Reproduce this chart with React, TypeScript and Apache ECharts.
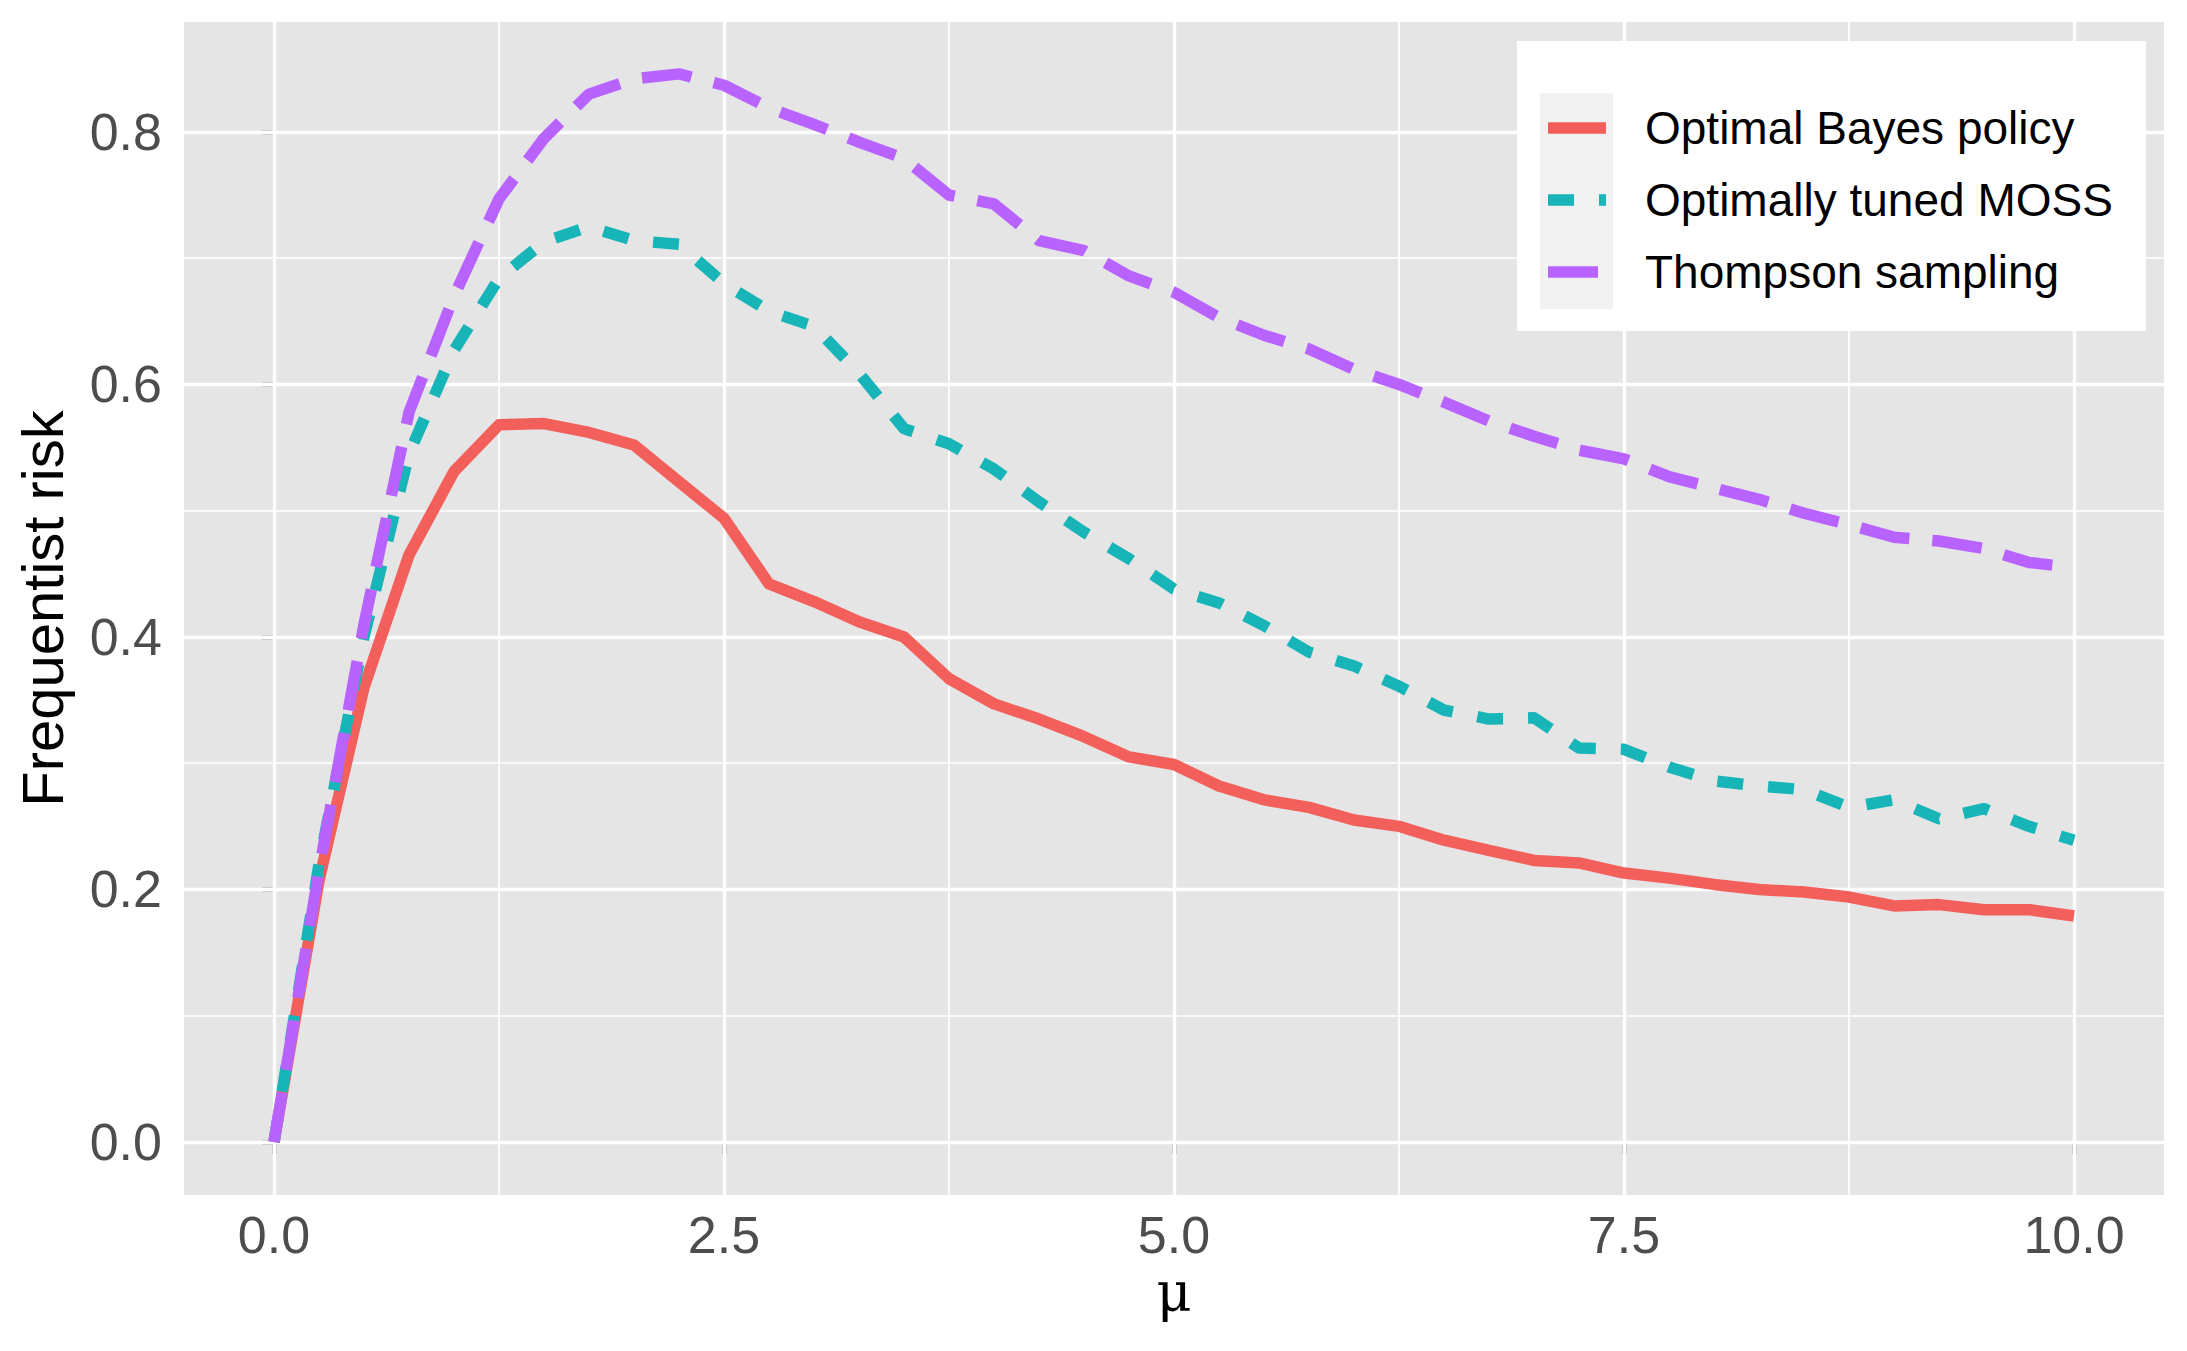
import React, { useEffect, useRef } from "react";
import * as echarts from "echarts";

const muValues = [
  0, 0.25, 0.5, 0.75, 1, 1.25, 1.5, 1.75, 2, 2.25, 2.5, 2.75, 3, 3.25, 3.5, 3.75, 4, 4.25, 4.5, 4.75,
  5, 5.25, 5.5, 5.75, 6, 6.25, 6.5, 6.75, 7, 7.25, 7.5, 7.75, 8, 8.25, 8.5, 8.75, 9, 9.25, 9.5, 9.75, 10,
];

const bayesRisk = [
  0, 0.207, 0.36, 0.465, 0.531, 0.568, 0.569, 0.562, 0.552, 0.523, 0.494, 0.442, 0.428, 0.412, 0.4,
  0.367, 0.347, 0.335, 0.321, 0.305, 0.299, 0.282, 0.271, 0.265, 0.255, 0.25, 0.239, 0.231, 0.223,
  0.221, 0.213, 0.209, 0.204, 0.2, 0.198, 0.194, 0.187, 0.188, 0.184, 0.184, 0.179,
];

const mossRisk = [
  0, 0.22, 0.4, 0.545, 0.627, 0.684, 0.713, 0.725, 0.714, 0.711, 0.68, 0.658, 0.646, 0.609, 0.565,
  0.553, 0.533, 0.507, 0.483, 0.462, 0.438, 0.427, 0.409, 0.388, 0.377, 0.361, 0.342, 0.335, 0.336,
  0.312, 0.311, 0.297, 0.286, 0.282, 0.279, 0.265, 0.271, 0.256, 0.264, 0.25, 0.239,
];

const thompsonRisk = [
  0, 0.215, 0.41, 0.578, 0.67, 0.747, 0.795, 0.83, 0.842, 0.846, 0.837, 0.819, 0.806, 0.792, 0.779,
  0.75, 0.743, 0.714, 0.706, 0.686, 0.673, 0.653, 0.639, 0.628, 0.612, 0.6, 0.586, 0.571, 0.559,
  0.548, 0.541, 0.527, 0.518, 0.509, 0.498, 0.489, 0.479, 0.476, 0.47, 0.459, 0.455,
];

const seriesNames = ["Optimal Bayes policy", "Optimally tuned MOSS", "Thompson sampling"];
const seriesColors = ["#F35F5A", "#17B4B8", "#B963FF"];

const xTickValues = [0, 2.5, 5, 7.5, 10];
const xMinorValues = [1.25, 3.75, 6.25, 8.75];
const yTickValues = [0, 0.2, 0.4, 0.6, 0.8];
const yMinorValues = [0.1, 0.3, 0.5, 0.7];

const FONT = "Liberation Sans, Arial, Helvetica, sans-serif";
const LINE_W = 11.5;

export default function App() {
  const ref = useRef<HTMLDivElement>(null);

  useEffect(() => {
    if (!ref.current) return;
    const chart = echarts.init(ref.current, null, { renderer: "svg" });

    const pair = (ys: number[]) => muValues.map((x, i) => [x, ys[i]]);

    const majorStyle = { color: "#ffffff", width: 3.4, type: "solid" as const };
    const minorStyle = { color: "#ffffff", width: 1.7, type: "solid" as const };

    const gridLines = [
      ...xMinorValues.map((v) => ({ xAxis: v, lineStyle: minorStyle })),
      ...yMinorValues.map((v) => ({ yAxis: v, lineStyle: minorStyle })),
      ...xTickValues.map((v) => ({ xAxis: v, lineStyle: majorStyle })),
      ...yTickValues.map((v) => ({ yAxis: v, lineStyle: majorStyle })),
    ];

    const seriesData = [bayesRisk, mossRisk, thompsonRisk];
    const dashes: any[] = ["solid", [26, 25], [50, 23]];

    // legend drawn with graphic elements (ggplot-like key column)
    const legendRowY = [128, 200, 272];
    const legendItems: any[] = [];
    seriesNames.forEach((name, i) => {
      legendItems.push({
        type: "line",
        z: 6,
        silent: true,
        shape: { x1: 1548, y1: legendRowY[i], x2: 1606, y2: legendRowY[i] },
        style: {
          stroke: seriesColors[i],
          lineWidth: LINE_W,
          lineCap: "butt",
          lineDash: dashes[i] === "solid" ? null : dashes[i],
        },
      });
      legendItems.push({
        type: "text",
        z: 6,
        silent: true,
        x: 1645,
        y: legendRowY[i],
        style: {
          text: name,
          fontFamily: FONT,
          fontSize: 46,
          fill: "#000000",
          verticalAlign: "middle",
          align: "left",
        },
      });
    });

    chart.setOption({
      animation: false,
      backgroundColor: "#ffffff",
      grid: {
        left: 184,
        top: 22,
        width: 1980,
        height: 1173,
        show: true,
        backgroundColor: "#e5e5e5",
        borderWidth: 0,
        containLabel: false,
        outerBoundsMode: "none",
      },
      graphic: [
        {
          type: "rect",
          z: 4,
          silent: true,
          shape: { x: 1517, y: 41, width: 629, height: 290 },
          style: { fill: "#ffffff" },
        },
        {
          type: "rect",
          z: 5,
          silent: true,
          shape: { x: 1540, y: 93, width: 73, height: 216 },
          style: { fill: "#f2f2f2" },
        },
        ...legendItems,
      ],
      xAxis: {
        type: "value",
        min: -0.5,
        max: 10.5,
        name: "μ",
        nameLocation: "middle",
        nameGap: 52,
        nameTextStyle: { fontFamily: "DejaVu Serif, Liberation Serif, serif", fontSize: 54, color: "#000000" },
        axisLine: { show: false },
        axisTick: {
          show: true,
          length: 12,
          customValues: xTickValues,
          lineStyle: { color: "#333333", width: 3.4 },
        },
        axisLabel: {
          show: true,
          customValues: xTickValues,
          margin: 14,
          fontFamily: FONT,
          fontSize: 52,
          color: "#4d4d4d",
          formatter: (v: number) => v.toFixed(1),
        },
        splitLine: { show: false },
        minorSplitLine: { show: false },
      },
      yAxis: {
        type: "value",
        min: -0.042,
        max: 0.8871,
        name: "Frequentist risk",
        nameLocation: "middle",
        nameGap: 113,
        nameRotate: 90,
        nameTextStyle: { fontFamily: FONT, fontSize: 58, color: "#000000" },
        axisLine: { show: false },
        axisTick: {
          show: true,
          length: 12,
          customValues: yTickValues,
          lineStyle: { color: "#333333", width: 3.4 },
        },
        axisLabel: {
          show: true,
          customValues: yTickValues,
          margin: 22,
          fontFamily: FONT,
          fontSize: 52,
          color: "#4d4d4d",
          formatter: (v: number) => v.toFixed(1),
        },
        splitLine: { show: false },
        minorSplitLine: { show: false },
      },
      series: seriesNames.map((name, i) => ({
        name,
        type: "line",
        data: pair(seriesData[i]),
        showSymbol: false,
        symbol: "none",
        z: 2,
        color: seriesColors[i],
        lineStyle: {
          color: seriesColors[i],
          width: LINE_W,
          type: dashes[i],
          cap: "butt",
          join: "round",
        },
        emphasis: { disabled: true },
        ...(i === 0
          ? {
              markLine: {
                silent: true,
                symbol: "none",
                z: 1,
                label: { show: false },
                emphasis: { disabled: true },
                data: gridLines,
              },
            }
          : {}),
      })),
    });

    return () => chart.dispose();
  }, []);

  return (
    <div
      ref={ref}
      style={{ position: "absolute", left: 0, top: 0, width: 2187, height: 1351 }}
    />
  );
}
